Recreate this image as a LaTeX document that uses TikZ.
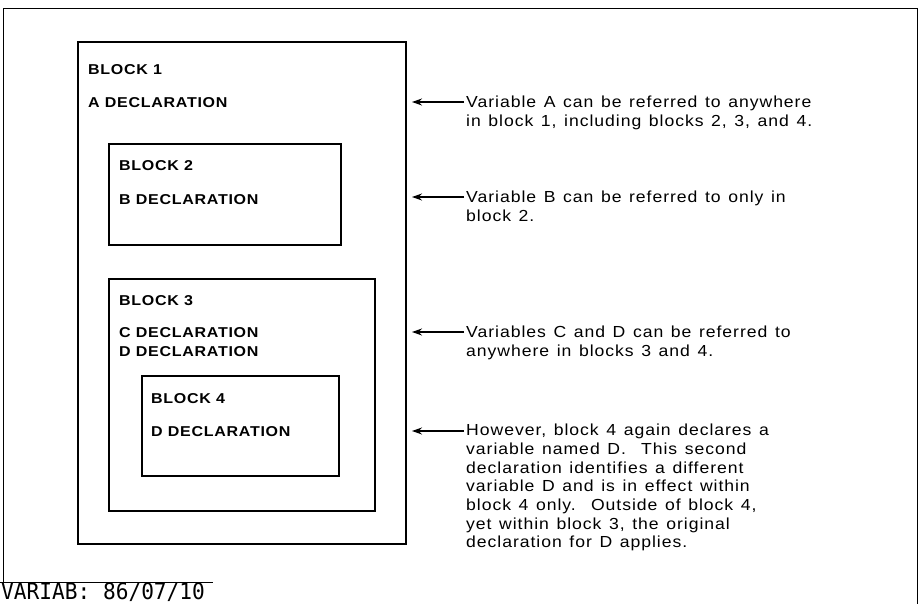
\documentclass[tikz,border=0pt]{standalone}
\usepackage{fontspec}
\setmainfont{Liberation Sans}
\newfontfamily\labfont{Liberation Sans Bold}[FakeStretch=1.12,LetterSpace=5]
\newfontfamily\bodyfont{Liberation Sans}[FakeStretch=1.1,LetterSpace=6,WordSpace=1.3]
\newfontfamily\monofont{DejaVu Sans Mono}[FakeStretch=0.94]
\usetikzlibrary{arrows.meta}
\begin{document}
\begin{tikzpicture}[x=1pt,y=-1pt,
  blockbox/.style={line width=1.6pt},
  frame/.style={line width=1pt},
  lab/.style={anchor=west,inner sep=0pt,font=\labfont\fontsize{14.3}{17}\selectfont},
  body/.style={anchor=north west,inner sep=0pt,align=left,font=\bodyfont\fontsize{16}{18.7}\selectfont},
  pointer/.style={line width=1.3pt,-{Stealth[length=10pt,width=7pt]}}]
\useasboundingbox (0,0) rectangle (922,604);
% outer frame
\coordinate (fbl) at (3,582);
\coordinate (ftl) at (3,9);
\coordinate (ftr) at (917,9);
\coordinate (fbr) at (917,604);
\draw[frame] (fbl) -- (ftl) -- (ftr) -- (fbr);
\coordinate (rl) at (0,582);
\coordinate (rr) at (213,582);
\draw[frame] (rl) -- (rr);
\node[anchor=base west,inner sep=0pt,font=\monofont\fontsize{22.5}{26}\selectfont] (stamp) at (1,599) {VARIAB: 86/07/10};
% blocks
\draw[blockbox] (78,42) rectangle (406,544);
\draw[blockbox] (109,144) rectangle (341,245);
\draw[blockbox] (109,279) rectangle (375,511);
\draw[blockbox] (142,376) rectangle (339,476);
% labels
\node[lab] (b1) at (88,70) {BLOCK 1};
\node[lab] (ad) at (88,103) {A DECLARATION};
\node[lab] (b2) at (119,166) {BLOCK 2};
\node[lab] (bd) at (119,200) {B DECLARATION};
\node[lab] (b3) at (119,301) {BLOCK 3};
\node[lab] (cd) at (119,333) {C DECLARATION};
\node[lab] (dd) at (119,352) {D DECLARATION};
\node[lab] (b4) at (151,399) {BLOCK 4};
\node[lab] (d4) at (151,432) {D DECLARATION};
% explanations
\node[body] (ta) at (466,96) {Variable A can be referred to anywhere\\in block 1, including blocks 2, 3, and 4.};
\node[body] (tb) at (466,191) {Variable B can be referred to only in\\block 2.};
\node[body] (tc) at (466,326) {Variables C and D can be referred to\\anywhere in blocks 3 and 4.};
\node[body] (td) at (466,424) {However, block 4 again declares a\\variable named D.\ \ This second\\declaration identifies a different\\variable D and is in effect within\\block 4 only.\ \ Outside of block 4,\\yet within block 3, the original\\declaration for D applies.};
% arrows
\coordinate (as) at (464,102); \coordinate (ae) at (412,102);
\coordinate (bs) at (464,197); \coordinate (be) at (412,197);
\coordinate (cs) at (464,332); \coordinate (ce) at (412,332);
\coordinate (ds) at (464,431); \coordinate (de) at (412,431);
\draw[pointer] (as) -- (ae);
\draw[pointer] (bs) -- (be);
\draw[pointer] (cs) -- (ce);
\draw[pointer] (ds) -- (de);
\end{tikzpicture}
\end{document}
